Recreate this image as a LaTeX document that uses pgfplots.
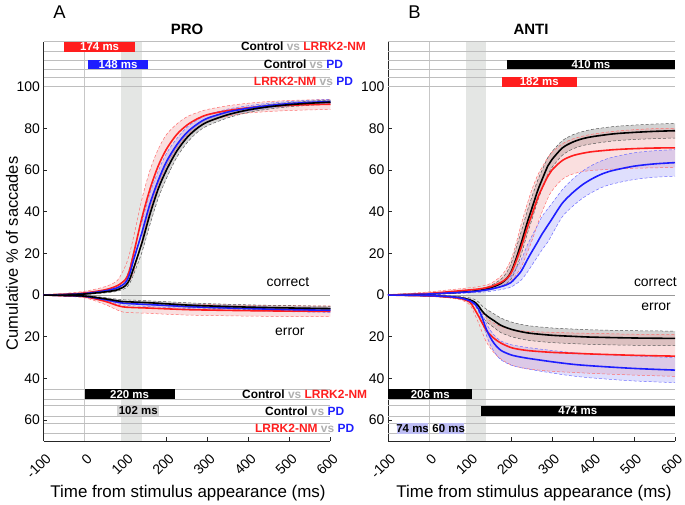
\documentclass[border=0pt]{standalone}
\usepackage{fontspec}
\setmainfont{Liberation Sans}
\usepackage{pgfplots}
\pgfplotsset{compat=1.18}
\usepackage{pgfplotstable}
\usepgfplotslibrary{fillbetween}

\definecolor{cR}{RGB}{255,30,30}
\definecolor{cB}{RGB}{30,30,255}
\definecolor{cK}{RGB}{0,0,0}
\definecolor{cRd}{RGB}{255,110,110}
\definecolor{cBd}{RGB}{110,110,255}
\definecolor{cKd}{RGB}{90,90,90}
\definecolor{cRf}{RGB}{240,150,150}
\definecolor{cBf}{RGB}{150,150,250}
\definecolor{cKf}{RGB}{110,110,110}
\definecolor{bandgray}{RGB}{228,230,228}
\definecolor{rowgray}{RGB}{190,190,190}
\definecolor{vsgray}{RGB}{175,175,175}
\definecolor{bargray}{RGB}{212,212,212}
\definecolor{lav}{RGB}{190,190,245}

% ---------- PRO correct (x mean lo hi)
\pgfplotstableread{
x m lo hi
-100 0 -0.2 0.3
-50 0.3 0 0.8
0 1.0 0.5 1.8
50 2.5 1.5 4
80 4.5 3 7
100 7.5 5 14
110 12 7 20
120 20 11 28
140 37 26 46
160 51 41 60
180 62 53 70
200 70 62 77
225 77 70.5 82
250 81.5 76.5 85.5
275 84.5 80.5 87.5
300 86.5 83 89
350 88.5 85.8 90.8
400 89.8 87.3 92
450 90.5 88 92.8
500 91 88.5 93.3
550 91.3 88.8 93.6
600 91.5 89 93.8
}\pcR
\pgfplotstableread{
x m lo hi
-100 0 -0.1 0.1
-50 0.2 0.05 0.4
0 0.5 0.3 0.8
50 1.5 1 2
80 2.5 1.8 3.3
100 4.5 3.3 6
110 7.5 5.5 10
120 13 10 17
140 25 20.5 30
160 39 34 44
180 51 46.5 55.5
200 60 56 64
225 69 66 72
250 75.5 73 78
275 80 78 82
300 83 81.2 84.8
350 86.5 85 88
400 88.8 87.6 90
450 90.3 89.2 91.4
500 91.3 90.3 92.3
550 92 91 93
600 92.5 91.5 93.5
}\pcK
\pgfplotstableread{
x m lo hi
-100 0 -0.1 0.1
-50 0.2 0.05 0.4
0 0.7 0.4 1
50 2 1.4 2.6
80 3.5 2.6 4.5
100 6 4.4 7.8
110 10 7.3 13
120 17 13 21
140 30 25 35
160 44 39 49
180 55 50.5 59.5
200 64 60 68
225 72 68.8 75
250 78 75.5 80.5
275 82 80 84
300 84.8 83 86.5
350 87.8 86.4 89.2
400 89.6 88.4 90.8
450 90.9 89.8 92
500 91.8 90.8 92.8
550 92.4 91.4 93.4
600 92.8 91.8 93.8
}\pcB
% ---------- PRO error
\pgfplotstableread{
x m lo hi
-100 0 -0.1 0.1
-50 -0.2 -0.4 0
0 -0.5 -0.8 -0.2
50 -1.8 -2.4 -1.2
80 -2.8 -3.6 -2
100 -3.2 -4.1 -2.3
150 -3.6 -4.5 -2.7
200 -4.2 -5.2 -3.2
250 -4.8 -5.9 -3.7
300 -5.2 -6.3 -4.1
400 -5.8 -6.9 -4.7
500 -6.2 -7.3 -5.1
600 -6.5 -7.6 -5.4
}\peK
\pgfplotstableread{
x m lo hi
-100 0 -0.1 0.1
-50 -0.2 -0.4 0
0 -0.6 -0.9 -0.3
50 -2.2 -2.8 -1.6
80 -3.4 -4.2 -2.6
100 -4 -4.9 -3.1
150 -4.5 -5.5 -3.5
200 -5 -6 -4
250 -5.5 -6.5 -4.5
300 -5.9 -6.9 -4.9
400 -6.5 -7.5 -5.5
500 -7 -8 -6
600 -7.3 -8.3 -6.3
}\peB
\pgfplotstableread{
x m lo hi
-100 0 -0.2 0.2
-50 -0.3 -0.6 0
0 -0.8 -1.3 -0.3
50 -3 -4.5 -1.5
80 -5 -7.2 -2.8
100 -5.8 -8.3 -3.3
150 -6.2 -8.7 -3.7
200 -6.6 -9.2 -4
250 -7 -9.6 -4.4
300 -7.2 -9.8 -4.6
400 -7.5 -10.1 -4.9
500 -7.7 -10.3 -5.1
600 -7.8 -10.4 -5.2
}\peR
% ---------- ANTI correct
\pgfplotstableread{
x m lo hi
-100 0 -0.1 0.1
-50 0.2 0.05 0.4
0 0.5 0.3 0.8
50 1 0.7 1.4
100 1.7 1.3 2.2
125 2.3 1.8 3
150 3.5 2.6 4.5
175 5.5 4 7.5
190 8 5.7 11
200 11 7.6 15
210 16 11.5 21
225 25 19.5 30.5
240 35 29.5 40.5
250 41 35.5 46.5
265 50 45 55
275 55 50.5 59.5
290 62 58 66
300 65 61.2 68.8
325 70.5 67 74
350 73.3 70 76.8
375 75 71.7 78.4
400 76 72.6 79.5
450 77.3 73.9 80.8
500 78 74.6 81.5
550 78.5 75 82
600 78.8 75.3 82.3
}\acK
\pgfplotstableread{
x m lo hi
-100 0 -0.2 0.3
-50 0.3 0 0.8
0 0.8 0.3 1.5
50 1.6 0.8 2.5
100 2.5 1.5 3.5
125 3 2 4.2
150 4 2.7 5.5
175 6 4 9
190 8 5.2 13
200 10.5 6.5 17
210 15 9 23
225 23 13.5 34
240 32.5 20.5 44
250 38 25.5 50
265 46.5 34 57.5
275 51 39.5 61
290 57 46.5 66
300 60 50 68.5
325 64.5 55.5 72.5
350 66.8 58 74.8
375 68 59.2 76.2
400 68.8 59.8 77.2
450 69.7 60.4 78.5
500 70.2 60.8 79.3
550 70.5 61 79.8
600 70.6 61.2 80
}\acR
\pgfplotstableread{
x m lo hi
-100 0 -0.1 0.1
-50 0.2 0.05 0.4
0 0.5 0.3 0.8
50 1 0.6 1.5
100 1.5 1 2.2
125 2 1.3 2.8
150 2.8 1.8 4
175 4 2.6 6
190 5 3.2 7.5
200 6 3.8 9
210 8 5 12
225 11.5 7.2 17
240 17 11 24
250 20.5 14 28
265 25.5 18.5 33.5
275 29 21.5 37.5
290 33.5 25.5 41.5
300 36.5 29 44
325 44 37.5 50.5
350 49 42.5 55.5
375 53 46.5 59.5
400 56 49.5 62.5
425 58.3 51.9 64.7
450 59.8 53.4 66.2
500 61.8 55.4 68.2
550 62.9 56.5 69.2
600 63.5 57 69.7
}\acB
% ---------- ANTI error
\pgfplotstableread{
x m lo hi
-100 0 -0.1 0.1
-50 -0.1 -0.2 0
0 -0.3 -0.5 -0.1
50 -0.8 -1.2 -0.4
80 -1.4 -2 -0.8
100 -2.3 -3.2 -1.4
110 -3.2 -4.4 -2
120 -5 -6.8 -3.2
130 -7.8 -10.3 -5.3
140 -9.8 -12.8 -6.8
150 -11.2 -14.4 -8
160 -12.5 -15.8 -9.2
175 -14.5 -18 -11
200 -16.4 -19.9 -12.9
225 -17.6 -21.1 -14.1
250 -18.4 -21.9 -14.9
300 -19.3 -22.8 -15.8
350 -19.8 -23.3 -16.3
400 -20.2 -23.7 -16.7
500 -20.6 -24.1 -17.1
600 -20.8 -24.3 -17.3
}\aeK
\pgfplotstableread{
x m lo hi
-100 0 -0.1 0.1
-50 -0.2 -0.3 0
0 -0.4 -0.6 -0.2
50 -1 -1.4 -0.6
80 -1.8 -2.5 -1.1
100 -3.5 -4.8 -2.2
110 -6.4 -8.6 -4
120 -9.8 -13 -6.3
130 -13.5 -18 -8.7
140 -17 -22.6 -11
150 -19.2 -25.5 -12.5
160 -21 -28 -13.7
175 -23 -30.6 -15
200 -25.2 -33.5 -16.4
225 -26.2 -34.8 -17.1
250 -26.8 -35.6 -17.5
300 -27.5 -36.6 -17.9
350 -27.9 -37.1 -18.2
400 -28.3 -37.6 -18.4
500 -28.9 -38.4 -18.8
600 -29.3 -39 -19
}\aeR
\pgfplotstableread{
x m lo hi
-100 0 -0.1 0.1
-50 -0.1 -0.2 0
0 -0.3 -0.4 -0.2
50 -0.8 -1 -0.6
80 -1.5 -1.8 -1.2
100 -2.8 -3.3 -2.3
110 -4 -4.7 -3.3
120 -6.5 -7.6 -5.4
130 -11 -12.9 -9.1
140 -16.5 -19.3 -13.7
150 -20.5 -24 -17
160 -23.5 -27.5 -19.5
175 -26.5 -31 -22
200 -28.7 -33.6 -23.8
225 -29.8 -34.9 -24.7
250 -30.6 -35.8 -25.4
300 -32 -37.4 -26.6
350 -33.2 -38.8 -27.6
400 -34 -39.8 -28.2
500 -35.2 -41.2 -29.2
600 -36 -42 -30
}\aeB

\newcommand{\bandfill}[4]{%
  \addplot[name path=#2hi, draw=#3, dash pattern=on 3bp off 2bp, line width=0.5bp, smooth] table[x=x,y=hi]{#1};
  \addplot[name path=#2lo, draw=#3, dash pattern=on 3bp off 2bp, line width=0.5bp, smooth] table[x=x,y=lo]{#1};
  \addplot[fill=#4, fill opacity=0.3, draw=none] fill between[of=#2hi and #2lo];
}
\newcommand{\meanline}[2]{\addplot[draw=#2, line width=1.6bp, smooth] table[x=x,y=m]{#1};}
\newcommand{\vbar}[5]{\addplot[fill=#5, draw=none] coordinates {(#1,#3) (#2,#3) (#2,#4) (#1,#4)} --cycle;}
\newcommand{\vs}{\textcolor{vsgray}{vs}}

\tikzset{
  bartxt/.style={font=\bfseries\fontsize{11.5}{13}\selectfont, inner sep=0pt},
  rowtxt/.style={font=\bfseries\fontsize{12}{14}\selectfont, inner sep=0pt},
  lbl/.style={font=\fontsize{14}{16}\selectfont, inner sep=0pt},
}
\pgfplotsset{
  panel/.style={
    scale only axis, width=287bp, height=399.3bp,
    xmin=-100, xmax=600, ymin=-70, ymax=121.5,
    axis x line*=bottom, axis y line*=left,
    axis line style={draw=black!85, line width=0.6bp, -},
    tick align=inside, major tick length=3.5bp,
    tick style={black!85, line width=0.6bp},
    xtick={-100,0,100,200,300,400,500,600},
    xticklabels={-100,0,100,200,300,400,500,600},
    ytick={-60,-40,-20,0,20,40,60,80,100},
    yticklabels={60,40,20,0,20,40,60,80,100},
    tick label style={font=\fontsize{14}{16}\selectfont},
    /pgf/number format/assume math mode=true,
    xticklabel style={xshift=5bp, yshift=-15bp, rotate=45, anchor=east, inner sep=0pt},
    clip=false,
  },
  rowline/.style={draw=rowgray, line width=0.5bp},
  zeroline/.style={draw=black!40, line width=0.6bp},
}

\begin{document}
\begin{tikzpicture}

% ================= PRO =================
\begin{axis}[panel, at={(43.5bp,64bp)}, anchor=south west]
  \vbar{90}{140}{-70}{121.5}{bandgray}
  \addplot[draw=black!22, line width=0.6bp] coordinates {(0,-70) (0,121.5)};
  \addplot[zeroline] coordinates {(-100,0) (600,0)};
  \pgfplotsinvokeforeach{121.5,116.7,112.7,108.3,104.6,100,-45,-50,-53,-58,-61.5,-66.5}{
    \addplot[rowline] coordinates {(-100,#1) (600,#1)};
  }
  % significance bars
  \vbar{-50}{124}{116.7}{121.5}{cR}
  \vbar{8}{156}{108.3}{112.7}{cB}
  \vbar{0}{220}{-50}{-45}{black}
  \vbar{80}{182}{-58}{-53}{bargray}
  \node[bartxt, text=white] at (axis cs:37,119.1) {174 ms};
  \node[bartxt, text=white] at (axis cs:82,110.5) {148 ms};
  \node[bartxt, text=white] at (axis cs:110,-47.5) {220 ms};
  \node[bartxt, text=black] at (axis cs:131,-55.5) {102 ms};
  \node[rowtxt] at (axis cs:534,119.1) {Control \vs\ \textcolor{cR}{LRRK2-NM}};
  \node[rowtxt] at (axis cs:534,110.5) {Control \vs\ \textcolor{cB}{PD}};
  \node[rowtxt] at (axis cs:534,102.3) {\textcolor{cR}{LRRK2-NM} \vs\ \textcolor{cB}{PD}};
  \node[rowtxt] at (axis cs:537,-47.5) {Control \vs\ \textcolor{cR}{LRRK2-NM}};
  \node[rowtxt] at (axis cs:537,-55.5) {Control \vs\ \textcolor{cB}{PD}};
  \node[rowtxt] at (axis cs:537,-64) {\textcolor{cR}{LRRK2-NM} \vs\ \textcolor{cB}{PD}};
  % bands
  \bandfill{\pcR}{pcR}{cRd}{cRf}
  \bandfill{\pcB}{pcB}{cBd}{cBf}
  \bandfill{\pcK}{pcK}{cKd}{cKf}
  \bandfill{\peR}{peR}{cRd}{cRf}
  \bandfill{\peB}{peB}{cBd}{cBf}
  \bandfill{\peK}{peK}{cKd}{cKf}
  \meanline{\pcR}{cR}
  \meanline{\pcB}{cB}
  \meanline{\pcK}{cK}
  \meanline{\peR}{cR}
  \meanline{\peB}{cB}
  \meanline{\peK}{cK}
  \node[lbl] at (axis cs:496,6.2) {correct};
  \node[lbl] at (axis cs:501,-17.6) {error};
\end{axis}

% ================= ANTI =================
\begin{axis}[panel, at={(388bp,64bp)}, anchor=south west]
  \vbar{90}{140}{-70}{121.5}{bandgray}
  \addplot[draw=black!22, line width=0.6bp] coordinates {(0,-70) (0,121.5)};
  \addplot[zeroline] coordinates {(-100,0) (600,0)};
  \pgfplotsinvokeforeach{121.5,116.7,112.7,108.3,104.6,100,-45,-50,-53,-58,-61.5,-66.5}{
    \addplot[rowline] coordinates {(-100,#1) (600,#1)};
  }
  \vbar{190}{600}{108.3}{112.7}{black}
  \vbar{178}{360}{100}{104.6}{cR}
  \vbar{-100}{106}{-50}{-45}{black}
  \vbar{126}{600}{-58}{-53}{black}
  \vbar{-77}{-3}{-66.5}{-61.5}{lav}
  \vbar{25}{85}{-66.5}{-61.5}{lav}
  \node[bartxt, text=white] at (axis cs:395,110.5) {410 ms};
  \node[bartxt, text=white] at (axis cs:269,102.3) {182 ms};
  \node[bartxt, text=white] at (axis cs:3,-47.5) {206 ms};
  \node[bartxt, text=white] at (axis cs:363,-55.5) {474 ms};
  \node[bartxt, text=black] at (axis cs:-40,-64) {74 ms};
  \node[bartxt, text=black] at (axis cs:48,-64) {60 ms};
  \bandfill{\acK}{acK}{cKd}{cKf}
  \bandfill{\acR}{acR}{cRd}{cRf}
  \bandfill{\acB}{acB}{cBd}{cBf}
  \bandfill{\aeK}{aeK}{cKd}{cKf}
  \bandfill{\aeR}{aeR}{cRd}{cRf}
  \bandfill{\aeB}{aeB}{cBd}{cBf}
  \meanline{\acK}{cK}
  \meanline{\acR}{cR}
  \meanline{\acB}{cB}
  \meanline{\aeK}{cK}
  \meanline{\aeR}{cR}
  \meanline{\aeB}{cB}
  \node[lbl] at (axis cs:552,6.4) {correct};
  \node[lbl] at (axis cs:554,-5.6) {error};
\end{axis}

% labels and titles
\node[rotate=90, font=\fontsize{16.5}{19}\selectfont] at (12bp,251.5bp) {Cumulative \% of saccades};
\node[font=\fontsize{17}{20}\selectfont] at (188bp,12bp) {Time from stimulus appearance (ms)};
\node[font=\fontsize{17}{20}\selectfont] at (534bp,12bp) {Time from stimulus appearance (ms)};
\node[font=\bfseries\fontsize{15}{18}\selectfont] at (187bp,476bp) {PRO};
\node[font=\bfseries\fontsize{15}{18}\selectfont] at (531bp,476bp) {ANTI};
\node[font=\fontsize{18.5}{21}\selectfont] at (59.5bp,492.5bp) {A};
\node[font=\fontsize{18.5}{21}\selectfont] at (414.5bp,492.5bp) {B};
\pgfresetboundingbox
\useasboundingbox (0,0) rectangle (685bp,505bp);
\end{tikzpicture}
\end{document}
